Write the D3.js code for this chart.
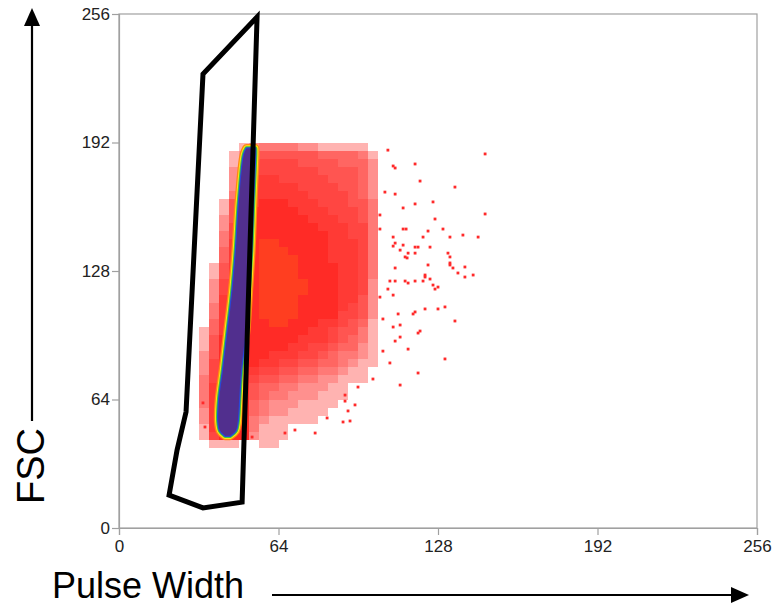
<!DOCTYPE html>
<html>
<head>
<meta charset="utf-8">
<title>FSC vs Pulse Width</title>
<script src="https://cdn.jsdelivr.net/npm/d3@7"></script>
<style>
  body { margin: 0; background: #fff; }
  svg { display: block; font-family: "Liberation Sans", Arial, sans-serif; }
</style>
</head>
<body>
<div id="chart"></div>
<script>
// axis ticks (0..256 channels)
const ticks = [0, 64, 128, 192, 256];

// binned event density, 4x4 channel cells, levels 0-9
// columns start at pulse width 32, rows listed from FSC 188 down to 40
const cellSize = 4;
const gridX0 = 32;
const gridYTop = 188;
const densityRows = [
  "000012333322111110",
  "000125555555444431",
  "000136666655554442",
  "000246666666555542",
  "000257776666655542",
  "000257777766665542",
  "000357777776666542",
  "001557888777666553",
  "001568888877766653",
  "002568888887776653",
  "002668888888777663",
  "003668888888877663",
  "003768998888877763",
  "004778999888877763",
  "004778999988877763",
  "015778999988887763",
  "015778999988887763",
  "026888999998887762",
  "026888999998887762",
  "027888999988887752",
  "037888999988887652",
  "037888999988886652",
  "047888899888776541",
  "147888888887765531",
  "158888888877765431",
  "158888888776654421",
  "258888877766543321",
  "268888776655443211",
  "268887665544332110",
  "368886554433221110",
  "378885443322211000",
  "378885433222111000",
  "378884322211110000",
  "278884322111100000",
  "278883211111000000",
  "178883111000000000",
  "168882111000000000",
  "011100110000000000"
];

// dense singlet core: [FSC, left edge, right edge]
const coreRows = [
  [46.0, 42.6, 44.6],
  [48.5, 40.6, 46.8],
  [53, 39.9, 47.6],
  [64, 40.2, 48.2],
  [79, 41.8, 49.0],
  [99, 43.7, 51.0],
  [118, 45.5, 52.0],
  [138, 46.9, 53.0],
  [163, 48.2, 53.8],
  [186, 50.2, 54.6],
  [189, 51.2, 54.6]
];

// isolated events outside the main cloud: [pulse width, FSC]
const outliers = [
  [146.9, 186.3], [107.9, 188.2], [118.8, 181.3], [110.0, 180.3], [110.8, 179.3],
  [120.8, 172.8], [134.8, 169.8], [106.7, 167.3], [110.8, 166.3], [118.8, 161.4],
  [126.0, 162.4], [114.0, 159.4], [146.9, 156.4], [126.8, 153.9], [104.7, 155.9],
  [114.0, 148.9], [115.2, 148.9], [124.0, 147.9], [130.0, 148.9], [104.7, 148.9],
  [110.0, 144.9], [122.0, 144.9], [132.8, 144.9], [138.0, 145.9], [144.1, 144.9],
  [110.8, 141.9], [110.0, 140.4], [118.8, 139.9], [120.0, 139.9], [124.8, 139.9],
  [114.0, 140.9], [112.8, 138.4], [116.0, 136.9], [118.8, 136.9], [132.0, 136.9],
  [114.8, 135.0], [115.6, 134.5], [132.8, 135.0], [124.0, 131.0], [132.8, 132.0],
  [132.8, 131.0], [138.8, 130.0], [134.0, 129.5], [110.8, 129.5], [122.8, 126.0],
  [122.8, 125.0], [124.8, 124.0], [136.0, 127.0], [142.1, 126.0], [138.8, 125.0],
  [108.7, 123.0], [110.8, 123.0], [114.8, 123.0], [116.0, 122.0], [118.8, 123.0],
  [122.0, 123.0], [126.0, 121.0], [128.0, 120.0], [126.8, 119.0], [107.9, 119.0],
  [110.0, 116.0], [104.7, 115.0], [130.8, 110.1], [122.8, 109.1], [128.0, 109.1],
  [118.8, 107.6], [118.0, 106.6], [112.0, 106.6], [105.9, 104.1], [134.8, 103.1],
  [110.0, 100.1], [112.8, 101.1], [120.8, 98.1], [120.0, 97.1], [112.8, 95.1],
  [110.8, 93.1], [116.0, 89.1], [105.9, 88.1], [130.8, 84.2], [108.7, 82.2],
  [120.0, 77.2], [112.8, 71.2], [101.9, 74.2], [95.9, 70.2], [94.7, 61.3],
  [92.7, 53.3], [90.7, 66.2], [90.7, 63.2], [91.9, 58.3], [78.7, 47.3],
  [70.6, 48.8], [53.4, 45.3], [66.6, 47.3], [83.5, 54.8], [89.9, 52.8],
  [34.5, 50.3], [33.7, 62.3]
];

// singlet gate polygon: [pulse width, FSC]
const gate = [
  [55.4, 254.5], [33.7, 226.1], [26.9, 57.8], [23.3, 38.8],
  [20.1, 16.4], [33.7, 10.0], [49.4, 12.9]
];

const width = 782, height = 605;
const svg = d3.select("#chart").append("svg")
  .attr("width", width).attr("height", height);

const x = d3.scaleLinear().domain([0, 256]).range([119, 757]);
const y = d3.scaleLinear().domain([0, 256]).range([528, 14]);

// density cells
const cells = [];
densityRows.forEach((row, i) => {
  const fy = gridYTop - i * cellSize;
  row.split("").forEach((c, j) => {
    const lv = +c;
    if (lv > 0) cells.push({ px: gridX0 + j * cellSize, py: fy, lv: lv });
  });
});
const levelOpacity = [0, 0.36, 0.52, 0.63, 0.72, 0.8, 0.87, 0.93, 1, 1];

svg.append("g").selectAll("rect").data(cells).join("rect")
  .attr("x", d => x(d.px))
  .attr("y", d => y(d.py + cellSize))
  .attr("width", d => x(d.px + cellSize) - x(d.px))
  .attr("height", d => y(d.py) - y(d.py + cellSize))
  .attr("fill", d => d.lv === 9 ? "#ff3e20" : "#ff2b26")
  .attr("fill-opacity", d => levelOpacity[d.lv])
  .attr("shape-rendering", "crispEdges");

svg.append("g").selectAll("rect").data(outliers).join("rect")
  .attr("x", d => x(d[0]) - 1.4)
  .attr("y", d => y(d[1]) - 1.4)
  .attr("width", 2.8).attr("height", 2.8)
  .attr("fill", "#ff2a2a");

// core with its colour rim
const coreArea = d3.area()
  .y(d => y(d[0]))
  .x0(d => x(d[1]))
  .x1(d => x(d[2]))
  .curve(d3.curveCatmullRom);
const rims = [
  { c: "#ff8a10", w: 9 },
  { c: "#ffe21a", w: 6.5 },
  { c: "#3dc83d", w: 4.5 },
  { c: "#2a46d8", w: 2.5 }
];
rims.forEach(r => {
  svg.append("path").datum(coreRows)
    .attr("d", coreArea)
    .attr("fill", r.c)
    .attr("stroke", r.c)
    .attr("stroke-width", r.w)
    .attr("stroke-linejoin", "round");
});
svg.append("path").datum(coreRows)
  .attr("d", coreArea)
  .attr("fill", "#512f8e");

// frame and axes
svg.append("rect")
  .attr("x", x(0)).attr("y", y(256))
  .attr("width", x(256) - x(0)).attr("height", y(0) - y(256))
  .attr("fill", "none").attr("stroke", "#a0a0a0").attr("stroke-width", 1.2);

const yAxis = svg.append("g").attr("transform", `translate(${x(0)},0)`)
  .call(d3.axisLeft(y).tickValues(ticks).tickSize(7).tickPadding(2));
const xAxis = svg.append("g").attr("transform", `translate(0,${y(0)})`)
  .call(d3.axisBottom(x).tickValues(ticks).tickSize(7).tickPadding(5));
[xAxis, yAxis].forEach(g => {
  g.select(".domain").attr("stroke", "#a0a0a0").attr("stroke-width", 1.2);
  g.selectAll(".tick line").attr("stroke", "#a0a0a0").attr("stroke-width", 1.2);
  g.selectAll(".tick text")
    .attr("fill", "#222")
    .style("font-size", "17px")
    .style("font-family", "'Liberation Sans', Arial, sans-serif");
});

// gate
svg.append("path")
  .attr("d", d3.line().x(d => x(d[0])).y(d => y(d[1]))(gate) + "Z")
  .attr("fill", "none")
  .attr("stroke", "#000")
  .attr("stroke-width", 5)
  .attr("stroke-linejoin", "miter");

// axis titles with arrows
svg.append("text")
  .attr("transform", "translate(44,466) rotate(-90)")
  .attr("text-anchor", "middle")
  .style("font-size", "38px")
  .text("FSC");
svg.append("line")
  .attr("x1", 32).attr("y1", 421).attr("x2", 32).attr("y2", 24)
  .attr("stroke", "#000").attr("stroke-width", 2.2);
svg.append("path")
  .attr("d", "M32,8 L24,26 L40,26 Z").attr("fill", "#000");

svg.append("text")
  .attr("x", 52).attr("y", 598)
  .style("font-size", "36px")
  .text("Pulse Width");
svg.append("line")
  .attr("x1", 272).attr("y1", 595).attr("x2", 732).attr("y2", 595)
  .attr("stroke", "#000").attr("stroke-width", 2.2);
svg.append("path")
  .attr("d", "M749,595 L731,587 L731,603 Z").attr("fill", "#000");
</script>
</body>
</html>
